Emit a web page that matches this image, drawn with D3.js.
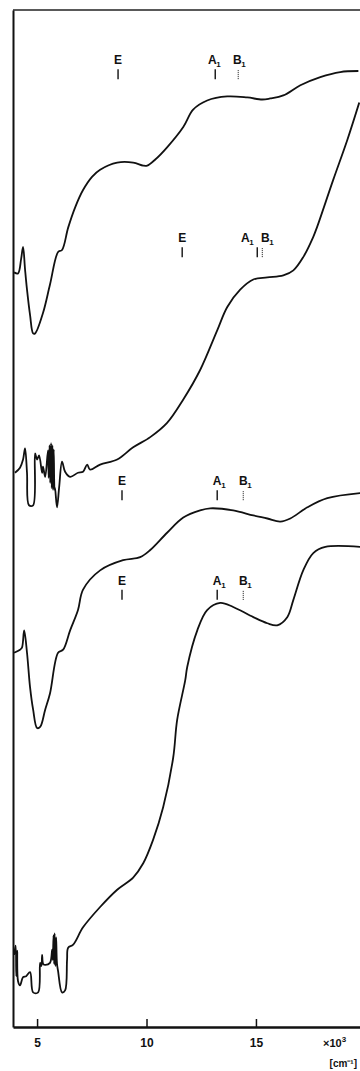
<!DOCTYPE html>
<html>
<head>
<meta charset="utf-8">
<script src="https://cdn.jsdelivr.net/npm/d3@7"></script>
<style>
  html, body { margin: 0; padding: 0; background: #fff; }
  svg { display: block; }
  text { font-family: "Liberation Sans", Arial, sans-serif; font-weight: bold; fill: #111; }
</style>
</head>
<body>
<svg id="chart" width="360" height="1071"></svg>
<script>
// wavenumber in 10^3 cm-1 vs absorbance (arbitrary units, traces offset)
const trace1 = [[3.95,7.42],[4.13,7.41],[4.27,7.55],[4.36,7.67],[4.45,7.45],[4.54,7.25],[4.68,7.00],[4.82,6.82],[4.91,6.82],[5.27,7.02],[5.59,7.30],[5.96,7.62],[6.14,7.64],[6.42,7.86],[6.74,8.06],[7.10,8.23],[7.51,8.36],[7.88,8.43],[8.66,8.50],[9.39,8.50],[9.85,8.47],[10.03,8.47],[10.40,8.53],[10.94,8.65],[11.68,8.85],[12.13,9.02],[12.77,9.11],[13.69,9.15],[14.60,9.14],[15.29,9.12],[15.65,9.13],[16.25,9.16],[17.03,9.26],[17.94,9.34],[18.85,9.39],[19.68,9.40]];

const trace2 = [[3.99,5.45],[4.22,5.50],[4.36,5.58],[4.45,5.69],[4.54,5.45],[4.63,5.13],[4.82,5.13],[4.91,5.64],[5.00,5.58],[5.09,5.62],[5.23,5.45],[5.27,5.51],[5.37,5.41],[5.50,5.67],[5.53,5.40],[5.57,5.72],[5.60,5.35],[5.64,5.74],[5.67,5.30],[5.70,5.72],[5.73,5.28],[5.76,5.68],[5.80,5.28],[5.82,5.30],[5.91,5.11],[6.01,5.31],[6.14,5.56],[6.28,5.46],[6.51,5.41],[6.87,5.45],[7.10,5.46],[7.29,5.53],[7.42,5.48],[7.88,5.53],[8.66,5.58],[9.39,5.70],[10.17,5.80],[10.94,5.94],[11.68,6.17],[12.45,6.46],[13.23,6.85],[13.69,7.08],[14.28,7.25],[14.88,7.35],[15.52,7.37],[16.25,7.39],[16.71,7.44],[17.16,7.57],[17.62,7.77],[17.80,7.87],[18.53,8.33],[19.17,8.72],[19.72,9.09]];

const trace3 = [[3.95,3.68],[4.22,3.71],[4.31,3.73],[4.41,3.90],[4.54,3.68],[4.68,3.34],[4.82,3.12],[5.00,2.94],[5.14,2.95],[5.37,3.12],[5.59,3.28],[5.96,3.68],[6.19,3.71],[6.51,3.90],[6.87,4.10],[7.10,4.30],[7.88,4.49],[8.93,4.59],[9.71,4.62],[10.17,4.69],[10.94,4.86],[11.68,5.01],[12.45,5.08],[12.91,5.10],[13.96,5.08],[14.88,5.03],[15.52,5.00],[16.11,4.97],[16.57,5.00],[17.35,5.11],[18.26,5.20],[19.77,5.25]];

const trace4 = [[3.95,0.71],[4.02,0.80],[4.05,0.50],[4.09,0.75],[4.13,0.45],[4.22,0.41],[4.36,0.49],[4.50,0.50],[4.68,0.54],[4.82,0.34],[5.05,0.34],[5.14,0.63],[5.20,0.60],[5.23,0.71],[5.28,0.62],[5.37,0.61],[5.59,0.63],[5.69,0.76],[5.72,0.66],[5.75,0.90],[5.78,0.62],[5.80,0.92],[5.84,0.60],[5.87,0.88],[5.91,0.62],[5.96,0.55],[6.14,0.34],[6.28,0.36],[6.37,0.66],[6.42,0.78],[6.65,0.81],[7.10,0.98],[7.88,1.18],[8.66,1.35],[9.39,1.47],[9.85,1.61],[10.30,1.84],[10.76,2.16],[11.22,2.65],[11.40,3.02],[11.77,3.41],[11.86,3.54],[12.32,3.90],[12.77,4.10],[13.37,4.17],[13.96,4.13],[14.88,4.03],[15.52,3.97],[15.97,3.95],[16.43,4.03],[16.71,4.20],[17.16,4.49],[17.62,4.66],[18.17,4.72],[19.77,4.72]];

const traces = [trace1, trace2, trace3, trace4];

// band assignments
const bandNames = ["E", "A", "B"];
const bandSubs = ["", "1", "1"];
const bandDotted = [false, false, true];
const bandPos = [
    [8.70, 13.14, 14.19],
    [11.63, 15.06, 15.29],
    [8.88, 13.23, 14.42],
    [8.88, 13.23, 14.42]];
const bandLevel = [9.32, 7.57, 5.18, 4.20];

const xTicks = [5, 10, 15];

(function () {
    const svg = d3.select("#chart");

    const x = d3.scaleLinear().domain([3.9, 19.8]).range([13, 361]);
    const y = d3.scaleLinear().domain([0, 10]).range([1027, 10]);

    // label shifts (px) for letters relative to their tick
    const labelDx = [[0, -3, -1], [0, -12, 3], [0, 0, 0], [0, 0, 0]];

    //frame top
    svg.append("line")
        .attr("x1", x(3.9)).attr("x2", x(19.8))
        .attr("y1", y(10)).attr("y2", y(10))
        .attr("stroke", "#222").attr("stroke-width", 1.5);

    //left edge
    svg.append("g")
        .attr("transform", `translate(${x(3.9)},0)`)
        .call(d3.axisLeft(y).tickValues([]).tickSizeOuter(0))
        .call(g => g.select(".domain").attr("stroke", "#111").attr("stroke-width", 2));

    //x axis, ticks pointing inward
    const xAxis = svg.append("g")
        .attr("transform", `translate(0,${y(0)})`)
        .call(d3.axisBottom(x).tickValues(xTicks).tickSize(-8).tickSizeOuter(0).tickPadding(11));
    xAxis.select(".domain").attr("stroke", "#111").attr("stroke-width", 2.5);
    xAxis.selectAll(".tick line").attr("stroke", "#111").attr("stroke-width", 1.5);
    xAxis.selectAll(".tick text")
        .attr("font-family", "Liberation Sans, Arial, sans-serif")
        .attr("font-weight", "bold")
        .attr("font-size", 12)
        .attr("fill", "#111");

    const unit = svg.append("text")
        .attr("x", 323).attr("y", 1047)
        .attr("font-size", 11);
    unit.append("tspan").text("×10");
    unit.append("tspan").attr("font-size", 8).attr("dy", -5).text("3");

    svg.append("text")
        .attr("x", 357).attr("y", 1067)
        .attr("text-anchor", "end")
        .attr("font-size", 10)
        .text("[cm⁻¹]");

    //spectra
    const line = d3.line()
        .x(d => x(d[0]))
        .y(d => y(d[1]))
        .curve(d3.curveCatmullRom.alpha(0.5));

    svg.append("g")
        .selectAll("path")
        .data(traces)
        .join("path")
        .attr("d", line)
        .attr("fill", "none")
        .attr("stroke", "#111")
        .attr("stroke-width", 1.8)
        .attr("stroke-linejoin", "round");

    //band markers
    bandPos.forEach((pos, i) => {
        const g = svg.append("g");
        const yb = y(bandLevel[i]);
        pos.forEach((p, j) => {
            g.append("line")
                .attr("x1", x(p)).attr("x2", x(p))
                .attr("y1", yb).attr("y2", yb - 10)
                .attr("stroke", "#111")
                .attr("stroke-width", bandDotted[j] ? 1 : 1.4)
                .attr("stroke-dasharray", bandDotted[j] ? "1,1" : null);
            const lx = x(p) + labelDx[i][j];
            g.append("text")
                .attr("x", lx).attr("y", yb - 15)
                .attr("text-anchor", "middle")
                .attr("font-size", 12)
                .text(bandNames[j]);
            if (bandSubs[j]) {
                g.append("text")
                    .attr("x", lx + 4).attr("y", yb - 12)
                    .attr("font-size", 8)
                    .text(bandSubs[j]);
            }
        });
    });
})();
</script>
</body>
</html>
